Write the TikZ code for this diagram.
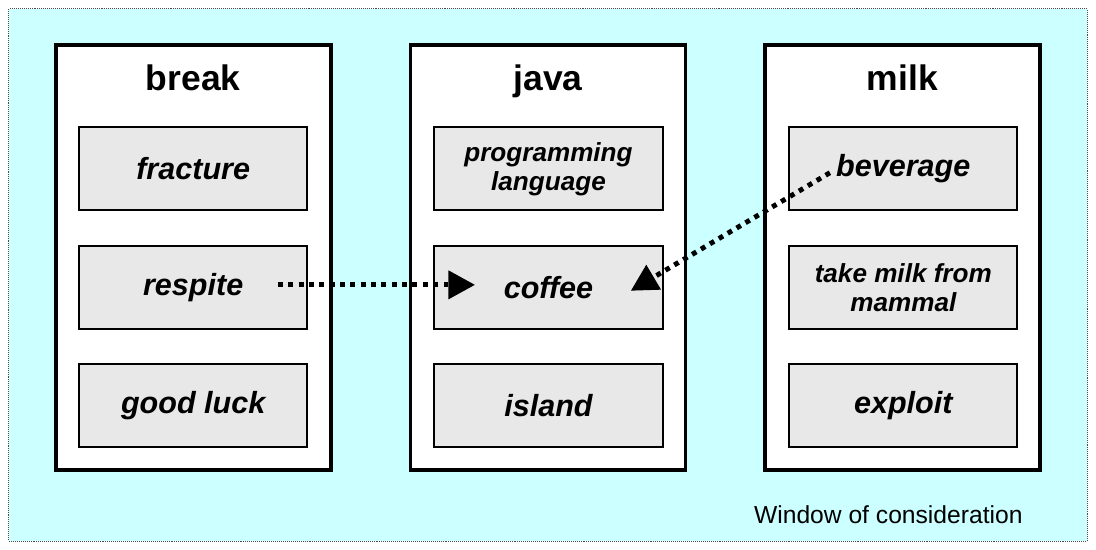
\documentclass[tikz,border=0pt]{standalone}
\usepackage{fontspec}
\setmainfont{Liberation Sans}
\usetikzlibrary{arrows.meta,calc}
\definecolor{windowcyan}{HTML}{CCFFFF}
\definecolor{cellgray}{HTML}{E8E8E8}
\begin{document}
\begin{tikzpicture}[x=1pt,y=-1pt,
  window/.style={draw=black!70, fill=windowcyan, line width=1pt, dash pattern=on 1pt off 1pt},
  column/.style={draw=black, fill=white, line width=4pt, minimum width=279pt, minimum height=431pt, inner sep=0pt, outer sep=0pt},
  sense/.style={draw=black, fill=cellgray, line width=2pt, minimum width=231.5pt, minimum height=84pt, inner sep=0pt, outer sep=0pt,
    font=\fontsize{31}{34}\selectfont\bfseries\itshape},
  smallsense/.style={sense, align=center, font=\fontsize{26.5}{29.5}\selectfont\bfseries\itshape},
  wordtitle/.style={anchor=base, font=\fontsize{36}{40}\selectfont\bfseries},
  link/.style={line width=5pt, dash pattern=on 5pt off 5.5pt,
    -{Triangle[length=27pt 0 0, width=28pt 0 0]}}]
  \useasboundingbox (0,0) rectangle (1112,558);
  % window of consideration
  \draw[window] (9,9) rectangle (1103,549);
  \node[anchor=base east, font=\fontsize{25}{30}\selectfont] (caption) at (1041,531) {Window of consideration};

  % word columns
  \node[column] (colBreak) at (196,261.5) {};
  \node[column] (colJava) at (556,261.5) {};
  \node[column] (colMilk) at (915.5,261.5) {};

  \node[wordtitle] (tBreak) at (196,92) {break};
  \node[wordtitle] (tJava) at (556,92) {java};
  \node[wordtitle] (tMilk) at (915.5,92) {milk};

  % senses
  \node[sense] (fracture) at (196,171.25) {fracture};
  \node[sense] (respite) at (196,291.5) {respite};
  \node[sense] (goodluck) at (196,411.75) {good luck};

  \node[smallsense] (proglang) at (556.5,171.25) {programming\\language};
  \node[sense] (coffee) at (556.5,291.5) {coffee};
  \node[sense] (island) at (556.5,411.75) {island};

  \node[sense] (beverage) at (916.5,171.25) {beverage};
  \node[smallsense] (mammal) at (916.5,291.5) {take milk from\\mammal};
  \node[sense] (exploit) at (916.5,411.75) {exploit};

  % links between senses
  \coordinate (respiteOut) at ($(respite.center)+(86,-2.5)$);
  \coordinate (coffeeInL) at ($(coffee.center)+(-74.5,-2.5)$);
  \coordinate (beverageOut) at ($(beverage.center)+(-74.5,4)$);
  \coordinate (coffeeInR) at ($(coffee.center)+(83.5,3.5)$);
  \draw[link] (respiteOut) -- (coffeeInL);
  \draw[link] (beverageOut) -- (coffeeInR);
\end{tikzpicture}
\end{document}
